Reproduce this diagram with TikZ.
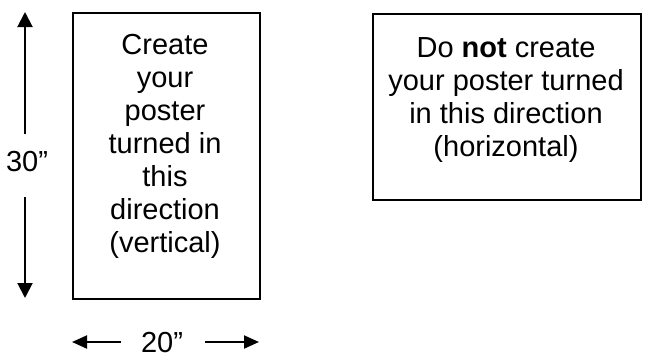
\documentclass[tikz,border=0pt]{standalone}
\usepackage{fontspec}
\setmainfont{Liberation Sans}
\usetikzlibrary{arrows.meta}
\begin{document}
\begin{tikzpicture}[x=1pt,y=-1pt,
  poster/.style={draw, line width=1.6pt, inner sep=0pt, anchor=north west},
  txt/.style={align=center, font=\fontsize{29}{33}\selectfont, inner sep=0pt},
  dim/.style={line width=2pt, -{Triangle[length=15pt,width=15pt]}},
  dimh/.style={line width=2pt, -{Triangle[length=15pt,width=13pt]}}]
\useasboundingbox (0,0) rectangle (645,357);
% boxes
\node[poster, minimum width=187pt, minimum height=286pt] (vbox) at (72,12) {};
\node[poster, minimum width=268pt, minimum height=186pt] (hbox) at (372,13) {};
% texts
\node[txt] (vtext) at (165,146) {Create\\your\\poster\\turned in\\this\\direction\\(vertical)};
\node[txt] (htext) at (506,100) {Do \textbf{not} create\\your poster turned\\in this direction\\(horizontal)};
% vertical dimension
\node[txt] (l30) at (27,162) {30”};
\coordinate (vt) at (25,12);
\coordinate (vb) at (25,298);
\coordinate (vts) at (25,134);
\coordinate (vbs) at (25,197);
\draw[dim] (vts) -- (vt);
\draw[dim] (vbs) -- (vb);
% horizontal dimension
\node[txt, anchor=base] (l20) at (162,352) {20”};
\coordinate (hl) at (72,342);
\coordinate (hr) at (259,342);
\coordinate (hls) at (121,342);
\coordinate (hrs) at (205,342);
\draw[dimh] (hls) -- (hl);
\draw[dimh] (hrs) -- (hr);
\end{tikzpicture}
\end{document}
